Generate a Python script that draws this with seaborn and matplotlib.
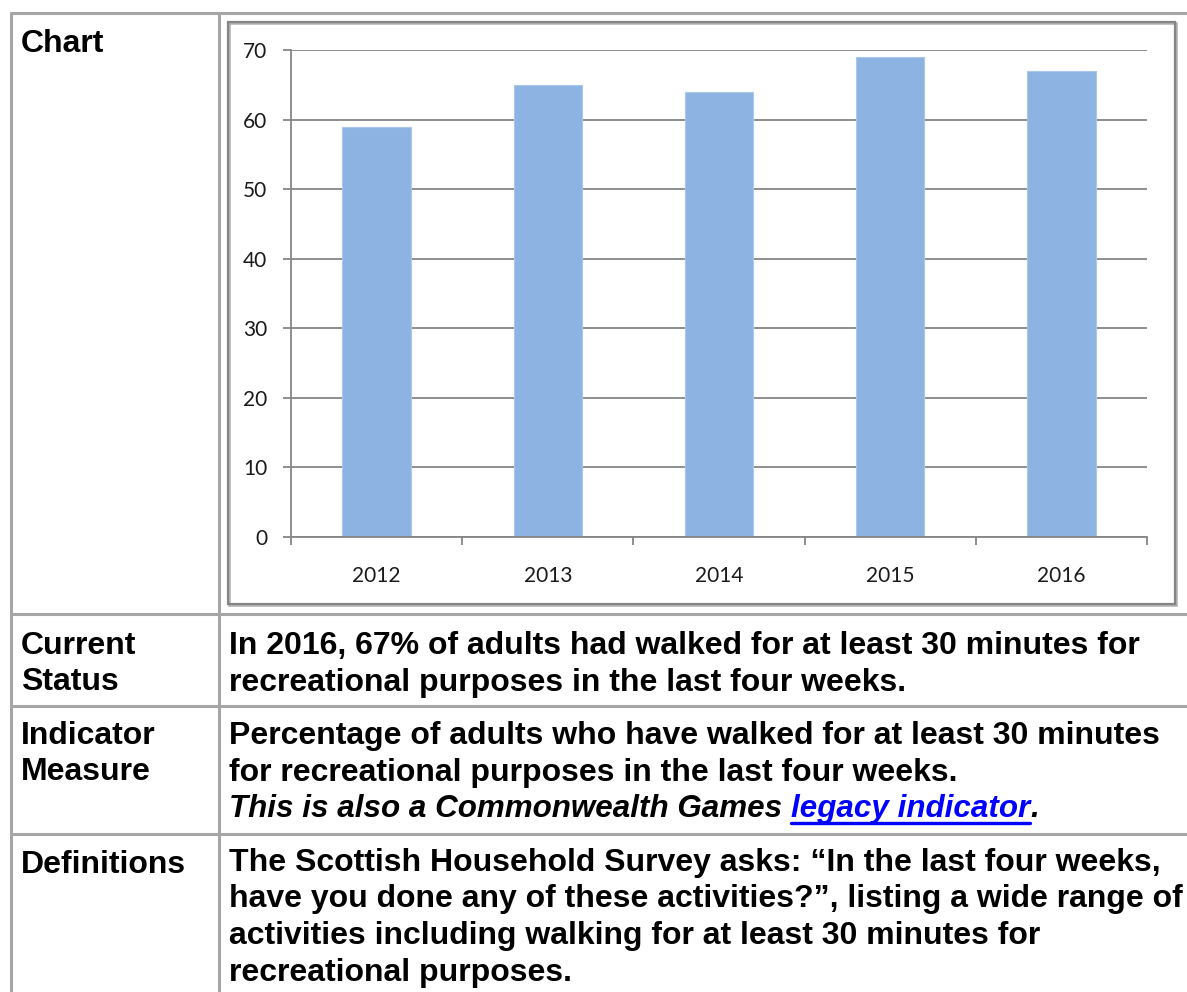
import matplotlib
matplotlib.use("Agg")
import matplotlib.pyplot as plt
from matplotlib.lines import Line2D
from matplotlib.patches import Rectangle
import seaborn as sns

years = ["2012", "2013", "2014", "2015", "2016"]
walked = [59, 65, 64, 69, 67]
y_ticks = [0, 10, 20, 30, 40, 50, 60, 70]

chart_label = ["Chart"]
status_label = ["Current", "Status"]
measure_label = ["Indicator", "Measure"]
defs_label = ["Definitions"]
status_lines = ["In 2016, 67% of adults had walked for at least 30 minutes for",
                "recreational purposes in the last four weeks."]
measure_lines = ["Percentage of adults who have walked for at least 30 minutes",
                 "for recreational purposes in the last four weeks."]
legacy_pre = "This is also a Commonwealth Games "
legacy_link = "legacy indicator"
defs_lines = ["The Scottish Household Survey asks: \u201cIn the last four weeks,",
              "have you done any of these activities?\u201d, listing a wide range of",
              "activities including walking for at least 30 minutes for",
              "recreational purposes."]

sns.set_style("white")
plt.rcParams["font.family"] = ["Liberation Sans", "DejaVu Sans"]

W, H = 1187, 992
fig = plt.figure(figsize=(W / 100, H / 100), dpi=100)


def fx(px):
    return px / W


def fy(py):
    return 1 - py / H


# table grid
grid_col = "#a6a6a6"
for y in [13, 614, 706, 834]:
    fig.add_artist(Line2D([fx(11), 1], [fy(y), fy(y)], color=grid_col, lw=2.2))
for x in [11, 219]:
    fig.add_artist(Line2D([fx(x), fx(x)], [fy(13), 0], color=grid_col, lw=2.2))

# chart frame (with a faint shadow on right/bottom)
fig.add_artist(Rectangle((fx(229), fy(605)), fx(1176) - fx(229), fy(23) - fy(605),
                         transform=fig.transFigure, fill=False,
                         edgecolor="#b0b0b0", lw=1.8))
fig.add_artist(Rectangle((fx(228), fy(604)), fx(1175) - fx(228), fy(22) - fy(604),
                         transform=fig.transFigure, fill=False,
                         edgecolor="#858585", lw=1.6))

# bar chart
ax = fig.add_axes([fx(291), fy(537), fx(1147) - fx(291), fy(50) - fy(537)])
sns.barplot(x=years, y=walked, color="#8db3e2", width=0.4, saturation=1,
            edgecolor="#a9c6ec", linewidth=0.8, ax=ax)
ax.set_ylim(0, 70)
ax.set_xlim(-0.5, len(years) - 0.5)
ax.set_yticks(y_ticks)
ax.yaxis.grid(True, color="#868686", lw=1.3)
ax.set_axisbelow(True)
for s in ["top", "right"]:
    ax.spines[s].set_visible(False)
for s in ["left", "bottom"]:
    ax.spines[s].set_color("#868686")
    ax.spines[s].set_linewidth(1.3)
ax.set_xticks([i - 0.5 for i in range(len(years) + 1)], minor=True)
ax.tick_params(axis="x", which="major", length=0, pad=21, bottom=True)
ax.tick_params(axis="x", which="minor", length=6, width=1.3, color="#868686",
               direction="out", bottom=True)
ax.tick_params(axis="y", length=6, width=1.3, color="#868686", direction="out",
               pad=11, left=True)
for lab in ax.get_xticklabels() + ax.get_yticklabels():
    lab.set_fontfamily("Lato")
    lab.set_fontsize(15)
    lab.set_color("#1a1a1a")
ax.set_xlabel("")
ax.set_ylabel("")

# table text, one baseline per line
tkw = dict(fontsize=23, fontweight="bold", color="black", va="baseline")
step = 36.5


def put_lines(x, y0, lines, **kw):
    for i, line in enumerate(lines):
        fig.text(fx(x), fy(y0 + i * step), line, **dict(tkw, **kw))


put_lines(21, 52, chart_label)
put_lines(21, 654, status_label)
put_lines(21, 744, measure_label)
put_lines(21, 873, defs_label)

put_lines(229, 654, status_lines)
put_lines(229, 744, measure_lines)
put_lines(229, 871, defs_lines)

ikw = dict(tkw, style="italic", fontsize=22.6)
renderer = fig.canvas.get_renderer()
y_it = 744 + 2 * step
t1 = fig.text(fx(229), fy(y_it), legacy_pre, **ikw)
bb1 = t1.get_window_extent(renderer)
t2 = fig.text(bb1.x1 / W, fy(y_it), legacy_link, **dict(ikw, color="#0000ff"))
bb2 = t2.get_window_extent(renderer)
fig.add_artist(Line2D([bb2.x0 / W, bb2.x1 / W], [fy(y_it + 6), fy(y_it + 6)],
                      color="#0000ff", lw=2.4))
fig.text(bb2.x1 / W, fy(y_it), ".", **ikw)

fig.savefig("out.png", dpi=100)
